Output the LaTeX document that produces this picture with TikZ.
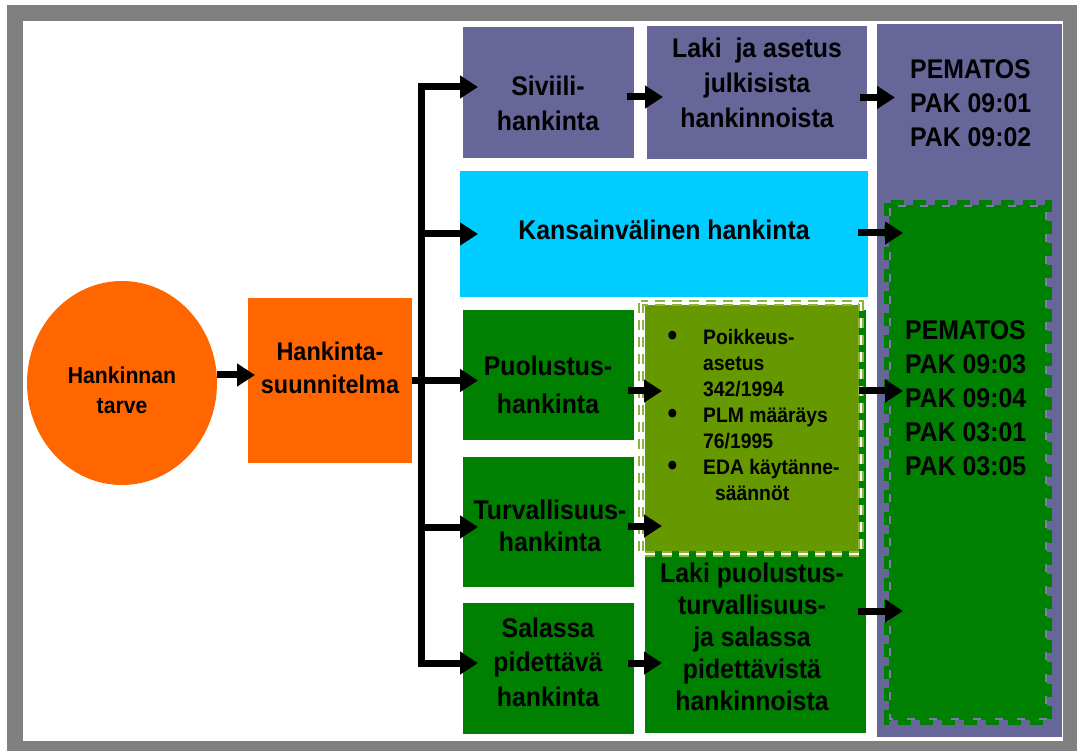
\documentclass[tikz,border=0pt]{standalone}
\usepackage{fontspec}
\setmainfont{Liberation Sans}[FakeStretch=0.92]
\usetikzlibrary{arrows.meta,shapes.geometric,calc}

\definecolor{frameGray}{HTML}{808080}
\definecolor{civPurple}{HTML}{666699}
\definecolor{intCyan}{HTML}{00CCFF}
\definecolor{defGreen}{HTML}{008000}
\definecolor{excOlive}{HTML}{669900}
\definecolor{excFrame}{HTML}{8DB53C}
\definecolor{needOrange}{HTML}{FF6600}

\begin{document}
\begin{tikzpicture}[x=1pt,y=-1pt,
  box/.style={rectangle, inner sep=0pt, outer sep=0pt, draw=none},
  lbl/.style={inner sep=0pt, align=center},
  big/.style={font=\bfseries\fontsize{27}{#1}\selectfont},
  big/.default=34,
  arr/.style={line width=7pt, line join=miter, -{Triangle[length=18pt,width=22pt]}},
  arrboth/.style={line width=7pt, line join=miter, {Triangle[length=18pt,width=22pt]}-{Triangle[length=18pt,width=22pt]}},
]
\useasboundingbox (0,0) rectangle (1077,751);

% page frame
\fill[frameGray] (7,5) rectangle (1077,751);
\fill[white] (23,21) rectangle (1063,741);

% left part: need and plan
\node[ellipse, fill=needOrange, inner sep=0pt, minimum width=190pt, minimum height=204pt] (need) at (122,383) {};
\node[box, fill=needOrange, minimum width=164pt, minimum height=165pt] (plan) at (330,380.5) {};

% procurement types
\node[box, fill=civPurple, minimum width=171pt, minimum height=131pt] (sivi) at (548.5,92.5) {};
\node[box, fill=intCyan, minimum width=408pt, minimum height=126pt] (kans) at (664,234) {};
\node[box, fill=defGreen, minimum width=171pt, minimum height=130pt] (puol) at (548.5,375) {};
\node[box, fill=defGreen, minimum width=171pt, minimum height=130pt] (turv) at (548.5,522) {};
\node[box, fill=defGreen, minimum width=171pt, minimum height=131pt] (sala) at (548.5,668.5) {};

% legislation column
\node[box, fill=civPurple, minimum width=220pt, minimum height=133pt] (lakiA) at (757,92.5) {};
\node[box, fill=defGreen, minimum width=221pt, minimum height=423pt] (lakiP) at (755.5,521.5) {};
\node[box, fill=excOlive, minimum width=214pt, minimum height=246pt] (exc) at (752,428) {};
\draw[excFrame, line width=1.5pt, double=white, double distance=2.2pt, dash pattern=on 10pt off 7pt]
  (641,303) rectangle (861,554);

% regulation panel
\node[box, fill=civPurple, minimum width=185pt, minimum height=713pt] (pem) at (969.5,380.5) {};
\node[box, minimum width=168pt, minimum height=525pt] (gPanel) at (968,462.5) {};
\fill[defGreen] ($(gPanel.north west)+(5,5)$) rectangle ($(gPanel.south east)+(-5,-5)$);
\draw[defGreen, line width=7pt, dash pattern=on 13pt off 9pt]
  ($(gPanel.north west)+(3.5,3.5)$) rectangle ($(gPanel.south east)+(-3.5,-3.5)$);
\draw[civPurple!85!white, line width=1.4pt, dash pattern=on 8pt off 14pt, dash phase=-2pt]
  ($(gPanel.north west)+(6,6)$) rectangle ($(gPanel.south east)+(-6,-6)$);

% texts
\node[lbl, font=\bfseries\fontsize{23}{30}\selectfont] (tNeed) at (122,390) {Hankinnan\\tarve};
\node[lbl, font=\bfseries\fontsize{25.5}{33}\selectfont] (tPlan) at (330,368) {Hankinta-\\suunnitelma};
\node[lbl, big=35] (tSivi) at (548,103) {Siviili-\\hankinta};
\node[lbl, big=35] (tLakiA) at (757,83) {Laki~ ja asetus\\julkisista\\hankinnoista};
\node[lbl, big=34, align=left, anchor=west] (tPem1) at (910,103) {PEMATOS\\PAK 09:01\\PAK 09:02};
\node[lbl, big] (tKans) at (664,230) {Kansainvälinen hankinta};
\node[lbl, big=38] (tPuol) at (548,385) {Puolustus-\\hankinta};
\node[lbl, big=32] (tTurv) at (550,526) {Turvallisuus-\\hankinta};
\node[lbl, big=34.5] (tSala) at (548,662) {Salassa\\pidettävä\\hankinta};
\node[lbl, big=32] (tLakiP) at (752,637) {Laki puolustus-\\turvallisuus-\\ja salassa\\pidettävistä\\hankinnoista};
\node[lbl, big=34, align=left, anchor=west] (tPem2) at (905,398)
  {PEMATOS\\PAK 09:03\\PAK 09:04\\PAK 03:01\\PAK 03:05};
\newcommand{\excitem}{\makebox[0pt][r]{\raisebox{-1pt}{\fontsize{30}{26}\selectfont\textbullet}\hspace{26pt}}}
\node[lbl, align=left, anchor=west, font=\bfseries\fontsize{21}{26}\selectfont] (tExc) at (703,415)
  {\excitem Poikkeus-\\asetus\\342/1994\\\excitem PLM määräys\\76/1995\\\excitem EDA käytänne-\\\hspace*{12pt}säännöt};

% connectors
\coordinate (tTop) at (421,87);
\coordinate (tBot) at (421,663);
\draw[arr] ($(need.east)+(0,-8)$) -- ($(plan.west)+(7,-5.5)$);
\draw[arr] (plan.east) -- ($(puol.west)+(15,5.5)$);
\draw[arrboth] ($(sivi.west)+(15,-5.5)$) -- (tTop) -- (tBot) -- ($(sala.west)+(15,-5.5)$);
\draw[arr] (tTop |- kans.west) -- ($(kans.west)+(18,0)$);
\draw[arr] ($(tTop |- turv.west)+(0,5)$) -- ($(turv.west)+(15,5)$);

\draw[arr] ($(sivi.east)+(-7,4.5)$) -- ($(lakiA.west)+(16,4.5)$);
\draw[arr] ($(lakiA.east)+(-7,5)$) -- ($(pem.west |- lakiA.east)+(18,5)$);
\draw[arr] ($(kans.east)+(-10,-1)$) -- ($(gPanel.west |- kans.east)+(19,-1)$);
\draw[arr] ($(puol.east)+(-6,16)$) -- ($(exc.west |- puol.east)+(17,16)$);
\draw[arr] ($(turv.east)+(-6,4)$) -- ($(exc.west |- turv.east)+(17,4)$);
\draw[arr] ($(exc.east |- puol.east)+(0,16)$) -- ($(gPanel.west |- puol.east)+(19,16)$);
\draw[arr] ($(sala.east)+(-6,-5.5)$) -- ($(lakiP.west |- sala.east)+(17,-5.5)$);
\draw[arr] ($(lakiP.east)+(-8,89.5)$) -- ($(gPanel.west |- lakiP.east)+(19,89.5)$);
\end{tikzpicture}
\end{document}
